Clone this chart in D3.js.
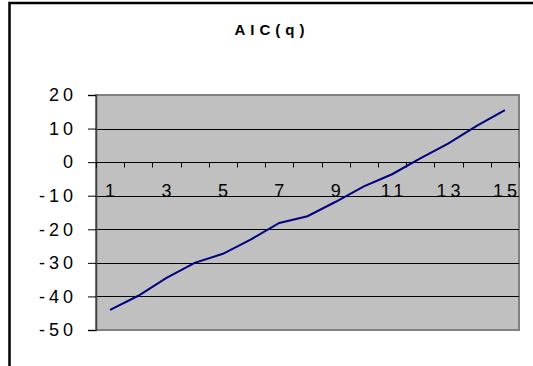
<!DOCTYPE html>
<html>
<head>
<meta charset="utf-8">
<script src="https://cdn.jsdelivr.net/npm/d3@7"></script>
<style>
  body { margin: 0; background: #fff; }
  text { font-family: "Liberation Sans", Arial, sans-serif; }
</style>
</head>
<body>
<svg id="chart" width="533" height="366"></svg>
<script>
// AIC value for each order q
const qValues = [1, 2, 3, 4, 5, 6, 7, 8, 9, 10, 11, 12, 13, 14, 15];
const aicValues = [-44.0, -39.8, -34.5, -30.0, -27.3, -23.0, -18.1, -16.1, -11.8, -7.2, -3.6, 1.1, 5.6, 10.8, 15.5];
const yTicks = [20, 10, 0, -10, -20, -30, -40, -50];
const xLabels = [1, 3, 5, 7, 9, 11, 13, 15];
const chartTitle = "AIC(q)";

const svg = d3.select("#chart");
const plot = { left: 96, right: 519, top: 95, bottom: 330 };

// outer chart frame (runs off the right and bottom edges)
svg.append("rect")
    .attr("x", 9.5).attr("y", 3)
    .attr("width", 600).attr("height", 400)
    .attr("fill", "#fff")
    .attr("stroke", "#000")
    .attr("stroke-width", 2.5);

svg.append("text")
    .attr("x", 272).attr("y", 34.5)
    .attr("text-anchor", "middle")
    .style("font-size", "15px")
    .style("font-weight", "bold")
    .style("letter-spacing", "5px")
    .text(chartTitle);

const x = d3.scaleBand()
    .domain(qValues)
    .range([plot.left, plot.right])
    .padding(0);

const y = d3.scaleLinear()
    .domain([-50, 20])
    .range([plot.bottom, plot.top]);

// plot area
svg.append("rect")
    .attr("x", plot.left).attr("y", plot.top)
    .attr("width", plot.right - plot.left)
    .attr("height", plot.bottom - plot.top)
    .attr("fill", "#c0c0c0")
    .attr("stroke", "#808080")
    .attr("stroke-width", 2);

// gridlines
svg.append("g")
    .selectAll("line")
    .data(yTicks.filter(d => d !== 20 && d !== -50))
    .enter().append("line")
    .attr("x1", plot.left).attr("x2", plot.right)
    .attr("y1", d => Math.round(y(d)) + 0.5)
    .attr("y2", d => Math.round(y(d)) + 0.5)
    .attr("stroke", "#000")
    .attr("stroke-width", 1);

// y axis
const yAxis = svg.append("g")
    .attr("transform", `translate(${plot.left},0)`)
    .call(d3.axisLeft(y).tickValues(yTicks).tickSize(8).tickPadding(12).tickFormat(d3.format("d")));
yAxis.select(".domain").attr("stroke", "#404040").attr("stroke-width", 1.5);
yAxis.selectAll(".tick line").attr("stroke", "#000");
yAxis.selectAll(".tick text")
    .attr("fill", "#000")
    .attr("dx", 1)
    .style("font-size", "18px")
    .style("letter-spacing", "4px")
    .style("font-family", "'Liberation Sans', Arial, sans-serif")
    .text(d => d < 0 ? "-" + Math.abs(d) : d);

// category axis along zero
const zeroY = Math.round(y(0)) + 0.5;
svg.append("line")
    .attr("x1", plot.left).attr("x2", plot.right)
    .attr("y1", zeroY).attr("y2", zeroY)
    .attr("stroke", "#000");

const boundaries = qValues.map(d => x(d)).concat([plot.right]);
svg.append("g")
    .selectAll("line")
    .data(boundaries)
    .enter().append("line")
    .attr("x1", d => Math.round(d) + 0.5)
    .attr("x2", d => Math.round(d) + 0.5)
    .attr("y1", zeroY).attr("y2", zeroY + 5)
    .attr("stroke", "#000");

svg.append("g")
    .selectAll("text")
    .data(xLabels)
    .enter().append("text")
    .attr("x", d => x(d) + x.bandwidth() / 2 + 2)
    .attr("y", 196.5)
    .attr("text-anchor", "middle")
    .style("font-size", "18px")
    .style("letter-spacing", "4px")
    .text(d => d);

// series line
const line = d3.line()
    .x((d, i) => x(qValues[i]) + x.bandwidth() / 2)
    .y(d => y(d));

svg.append("path")
    .datum(aicValues)
    .attr("d", line)
    .attr("fill", "none")
    .attr("stroke", "#000080")
    .attr("stroke-width", 2);
</script>
</body>
</html>
